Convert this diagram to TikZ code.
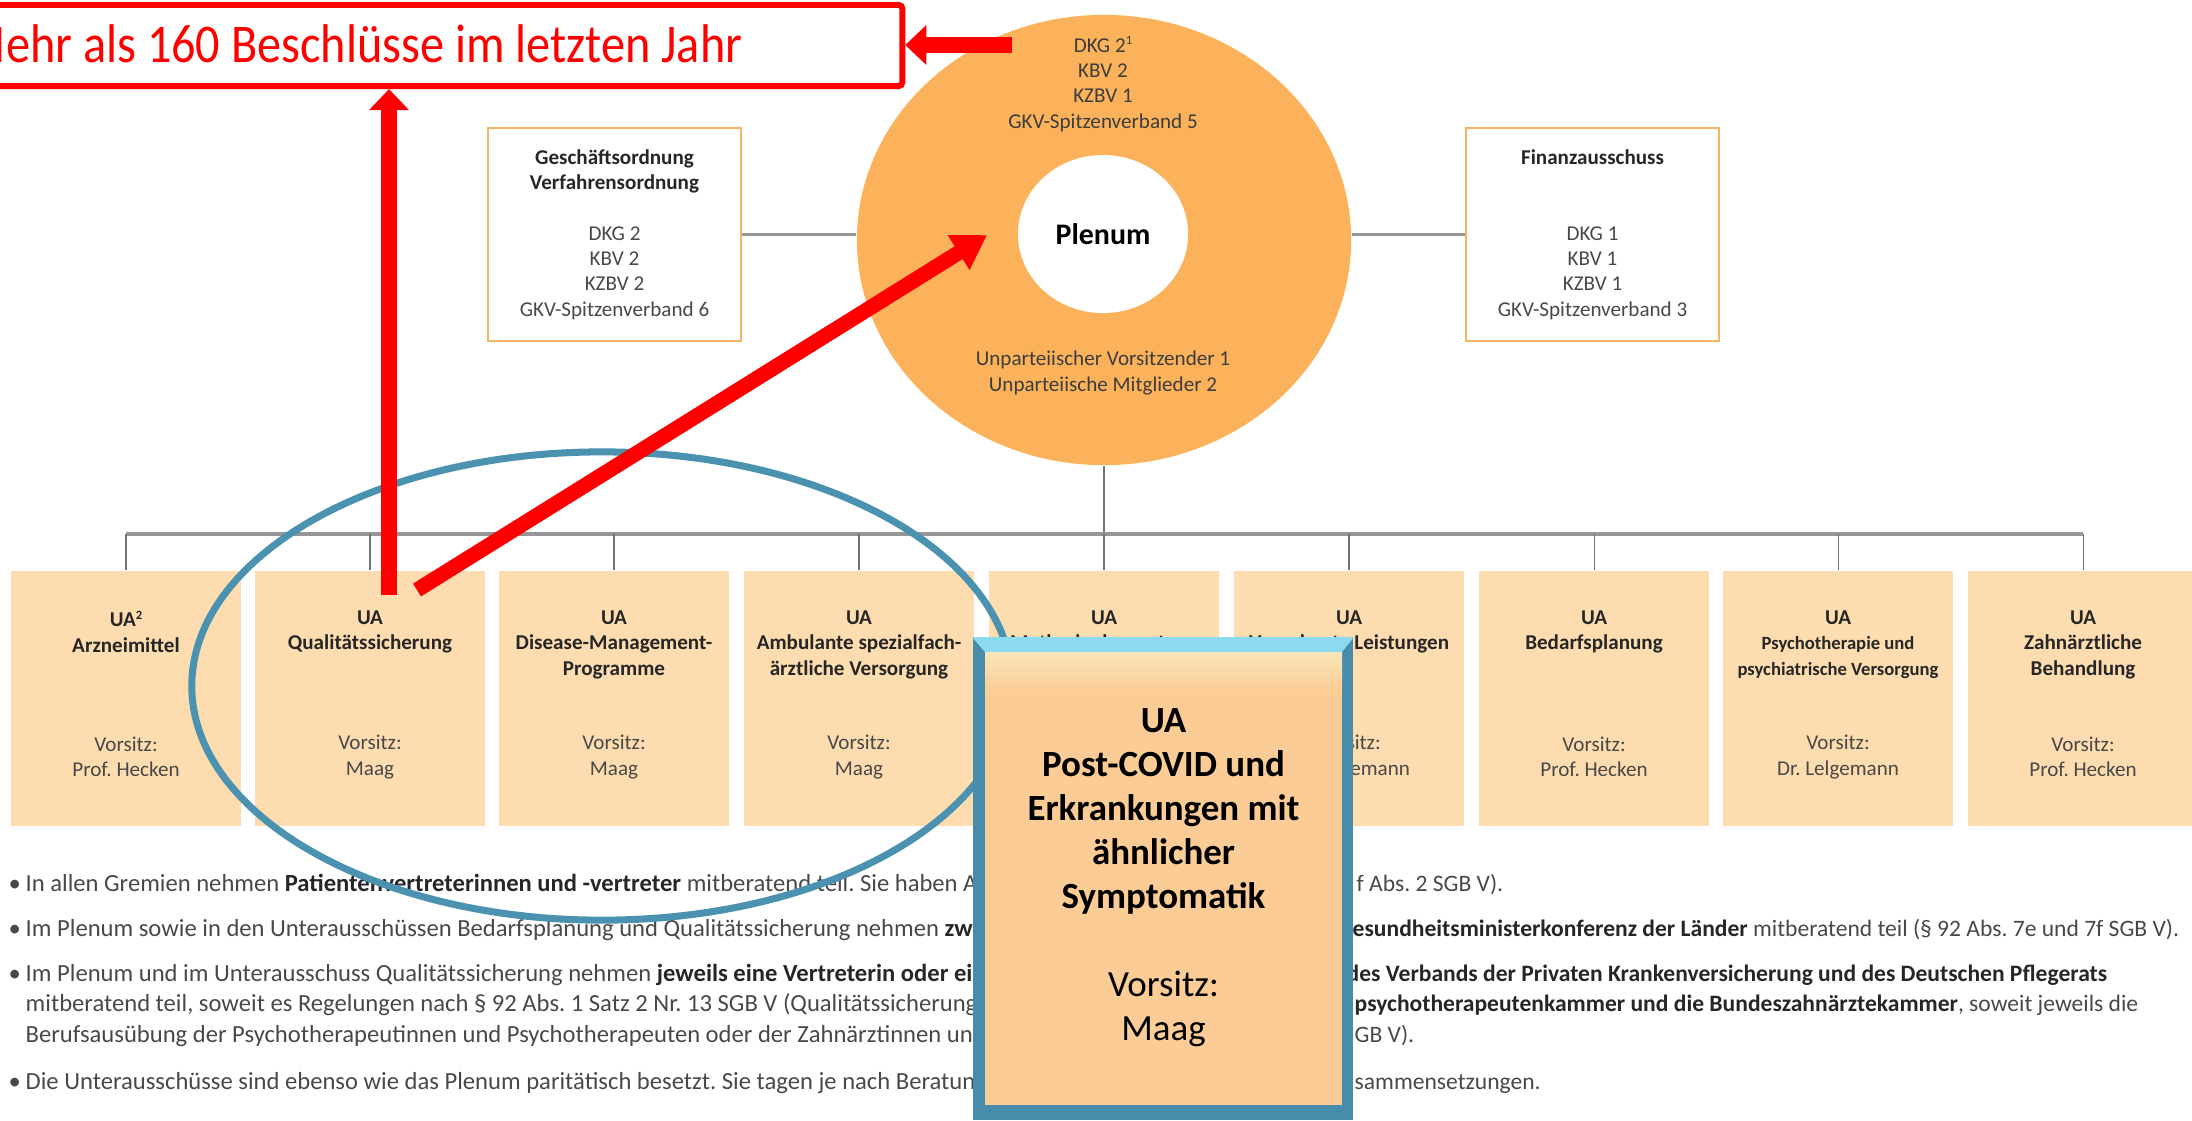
\documentclass[tikz,border=0pt]{standalone}
\usepackage{fontspec}
\setmainfont{Carlito}
\newfontfamily\condfont[FakeStretch=0.885]{Carlito}
\usetikzlibrary{arrows.meta,shapes.geometric}

\definecolor{ringorange}{RGB}{251,178,90}
\definecolor{uafill}{RGB}{253,221,176}
\definecolor{boxline}{RGB}{244,182,100}
\definecolor{focusblue}{RGB}{74,146,176}
\definecolor{frameblue}{RGB}{72,140,172}
\definecolor{frametop}{RGB}{140,218,240}
\definecolor{covidfill}{RGB}{251,204,150}
\definecolor{covidtop}{RGB}{248,230,185}
\definecolor{textgray}{RGB}{72,72,72}
\definecolor{linegray}{RGB}{150,150,150}

\newcommand\dark[1]{{\color{black!85}\bfseries #1}}
\newcommand\uasmall[1]{{\fontsize{5.3}{7.2}\selectfont #1}}
\newcommand\supsmall[1]{\raisebox{0.75ex}{\fontsize{3.6}{4}\selectfont #1}}
\frenchspacing

\tikzset{
  uabox/.style={rectangle, fill=uafill, minimum width=2.29cm, minimum height=2.55cm, inner sep=0pt},
  uatitle/.style={anchor=north, align=center, inner sep=0pt, text=black!85, font=\bfseries\fontsize{6}{7.2}\selectfont},
  uachair/.style={align=center, inner sep=0pt, text=textgray, font=\fontsize{6}{7.2}\selectfont},
  sidebox/.style={rectangle, draw=boxline, line width=0.6pt, minimum width=2.53cm, minimum height=2.13cm, align=center, text=textgray, font=\fontsize{6}{7.2}\selectfont},
  ringtext/.style={align=center, inner sep=0pt, text=textgray!85!black, font=\fontsize{6}{7.2}\selectfont},
  treeline/.style={draw=linegray, line width=0.7pt},
  uatick/.style={draw=black!55, line width=0.3pt},
  redarrow/.style={draw=red, line width=4.3pt, -{Triangle[length=6pt,width=11pt]}},
  bullettext/.style={anchor=base west, inner sep=0pt, text=textgray, font=\fontsize{7}{8.5}\selectfont},
  bulletright/.style={bullettext, font=\fontsize{6.7}{8.5}\selectfont},
}

\begin{document}
\begin{tikzpicture}[x=0.01cm, y=-0.01cm, line cap=butt]
%\draw[gray!30] (0,0) grid[step=100] (2192,1120);
\useasboundingbox (0,0) rectangle (2192,1120);

% Plenum und Ausschuesse
\node[ellipse, fill=ringorange, minimum width=4.94cm, minimum height=4.5cm, inner sep=0pt] (plenum) at (1104,240) {};
\node[ellipse, fill=white, minimum width=1.7cm, minimum height=1.58cm, inner sep=0pt, font=\bfseries\fontsize{8.5}{10}\selectfont] (plenumin) at (1103,234) {Plenum};
\node[ringtext] (members) at (1103,84) {DKG 2\supsmall{1}\\KBV 2\\KZBV 1\\GKV-Spitzenverband 5};
\node[ringtext] (chairs) at (1103,373) {Unparteiischer Vorsitzender 1\\Unparteiische Mitglieder 2};

\node[sidebox] (geschaeft) at (614.5,234.5) {\dark{Geschäftsordnung}\\\dark{Verfahrensordnung}\\[7.2pt]DKG 2\\KBV 2\\KZBV 2\\GKV-Spitzenverband 6};
\node[sidebox] (finanz) at (1592.5,234.5) {\dark{Finanzausschuss}\\[14.4pt]DKG 1\\KBV 1\\KZBV 1\\GKV-Spitzenverband 3};
\draw[treeline] (geschaeft.east) -- (geschaeft.east -| plenum.west);
\draw[treeline] (finanz.west) -- (finanz.west -| plenum.east);

% Unterausschuesse
\foreach \x/\t/\c [count=\i] in {
  126/{UA\supsmall{2}\\Arzneimittel}/{Vorsitz:\\Prof. Hecken},
  370/{UA\\Qualitätssicherung}/{Vorsitz:\\Maag},
  614/{UA\\Disease-Management-\\Programme}/{Vorsitz:\\Maag},
  859/{UA\\Ambulante spezialfach-\\ärztliche Versorgung}/{Vorsitz:\\Maag},
  1104/{UA\\Methodenbewertung}/{},
  1349/{UA\\Veranlasste Leistungen}/{Vorsitz:\\Dr. Lelgemann},
  1594/{UA\\Bedarfsplanung}/{Vorsitz:\\Prof. Hecken},
  1838/{UA\\\uasmall{Psychotherapie und}\\\uasmall{psychiatrische Versorgung}}/{Vorsitz:\\Dr. Lelgemann},
  2083/{UA\\Zahnärztliche\\Behandlung}/{Vorsitz:\\Prof. Hecken}}
{
  \node[uabox] (ua\i) at (\x,698.5) {};
  \node[uatitle] (uat\i) at (\x,610) {\t};
  \node[uachair] (uac\i) at (\x,757) {\c};
}
\coordinate (bar) at (1105,534);
\draw[uatick] (plenum.south) -- (plenum.south |- bar);
\draw[treeline, line width=0.9pt] (ua1.north |- bar) -- (ua9.north |- bar);
\foreach \i in {1,...,9} \draw[uatick] (ua\i.north) -- (ua\i.north |- bar);

% Hinweise
\node[bullettext] at (8,891) {\textbullet};
\node[bullettext] at (8,936) {\textbullet};
\node[bullettext] at (8,981) {\textbullet};
\node[bullettext] at (8,1089) {\textbullet};
\begin{scope}
\clip (0,850) rectangle (980,1120);
\node[bullettext] (b1) at (25,891) {In allen Gremien nehmen \dark{Patientenvertreterinnen und -vertreter} mitberatend teil. Sie haben A};
\node[bullettext] (b2) at (25,936) {Im Plenum sowie in den Unterausschüssen Bedarfsplanung und Qualitätssicherung nehmen \dark{zwe}};
\node[bullettext] (b3) at (25,981) {Im Plenum und im Unterausschuss Qualitätssicherung nehmen \dark{jeweils eine Vertreterin oder ein}};
\node[bullettext] (b3b) at (25,1011) {mitberatend teil, soweit es Regelungen nach § 92 Abs. 1 Satz 2 Nr. 13 SGB V (Qualitätssicherung};
\node[bullettext] (b3c) at (25,1042) {Berufsausübung der Psychotherapeutinnen und Psychotherapeuten oder der Zahnärztinnen un};
\node[bullettext] (b4) at (25,1089) {Die Unterausschüsse sind ebenso wie das Plenum paritätisch besetzt. Sie tagen je nach Beratung};
\end{scope}
\node[bulletright] (b1r) at (1356,891) {f Abs. 2 SGB V).};
\node[bulletright] (b2r) at (1352,936) {\dark{esundheitsministerkonferenz der Länder} mitberatend teil (§ 92 Abs. 7e und 7f SGB V).};
\node[bulletright] (b3r) at (1346,981) {\dark{des Verbands der Privaten Krankenversicherung und des Deutschen Pflegerats}};
\node[bulletright] (b3br) at (1354,1011) {\dark{psychotherapeutenkammer und die Bundeszahnärztekammer}, soweit jeweils die};
\node[bulletright] (b3cr) at (1354,1042) {GB V).};
\node[bulletright] (b4r) at (1354,1089) {sammensetzungen.};

% Markierungen
\node[ellipse, draw=focusblue, line width=2pt, minimum width=8.2cm, minimum height=4.68cm, inner sep=0pt] (focus) at (602,686) {};
\node[rectangle, draw=red, line width=1.7pt, fill=white, rounded corners=1pt, minimum width=9.2cm, minimum height=0.81cm] (title) at (442,45.5) {};
\node[anchor=base east, inner sep=0pt, text=red, font=\condfont\fontsize{15.5}{18}\selectfont] (titletext) at (743,62) {Mehr als 160 Beschlüsse im letzten Jahr};

\coordinate (qsup) at (389,595);
\coordinate (qsdiag) at (417,590);
\coordinate (plenumtip) at (987,235);
\coordinate (ringtip) at (1012,45);
\draw[redarrow] (qsup) -- (qsup |- title.south);
\draw[redarrow, -{Triangle[length=9.5pt,width=11pt]}] (qsdiag) -- (plenumtip);
\draw[redarrow, line width=4.8pt] (ringtip) -- (ringtip -| title.east);

% neuer Unterausschuss
\node[rectangle, fill=frameblue, minimum width=3.8cm, minimum height=4.82cm, inner sep=0pt] (covid) at (1163,879) {};
\coordinate (covidnw) at (985,652);
\coordinate (covidse) at (1342,1105);
\fill[frametop] (covid.north west) -- (covid.north east) -- (covidse |- covidnw) -- (covidnw) -- cycle;
\fill[covidfill] (covidnw) rectangle (covidse);
\shade[top color=covidtop, bottom color=covidfill] (covidnw) rectangle (1342,690);
\node[align=center, inner sep=0pt, font=\fontsize{10.5}{12.5}\selectfont] (covidtext) at (1163.5,878) {\textbf{UA}\\\textbf{Post-COVID und}\\\textbf{Erkrankungen mit}\\\textbf{ähnlicher}\\\textbf{Symptomatik}\\[12.5pt]Vorsitz:\\Maag};
\end{tikzpicture}
\end{document}
